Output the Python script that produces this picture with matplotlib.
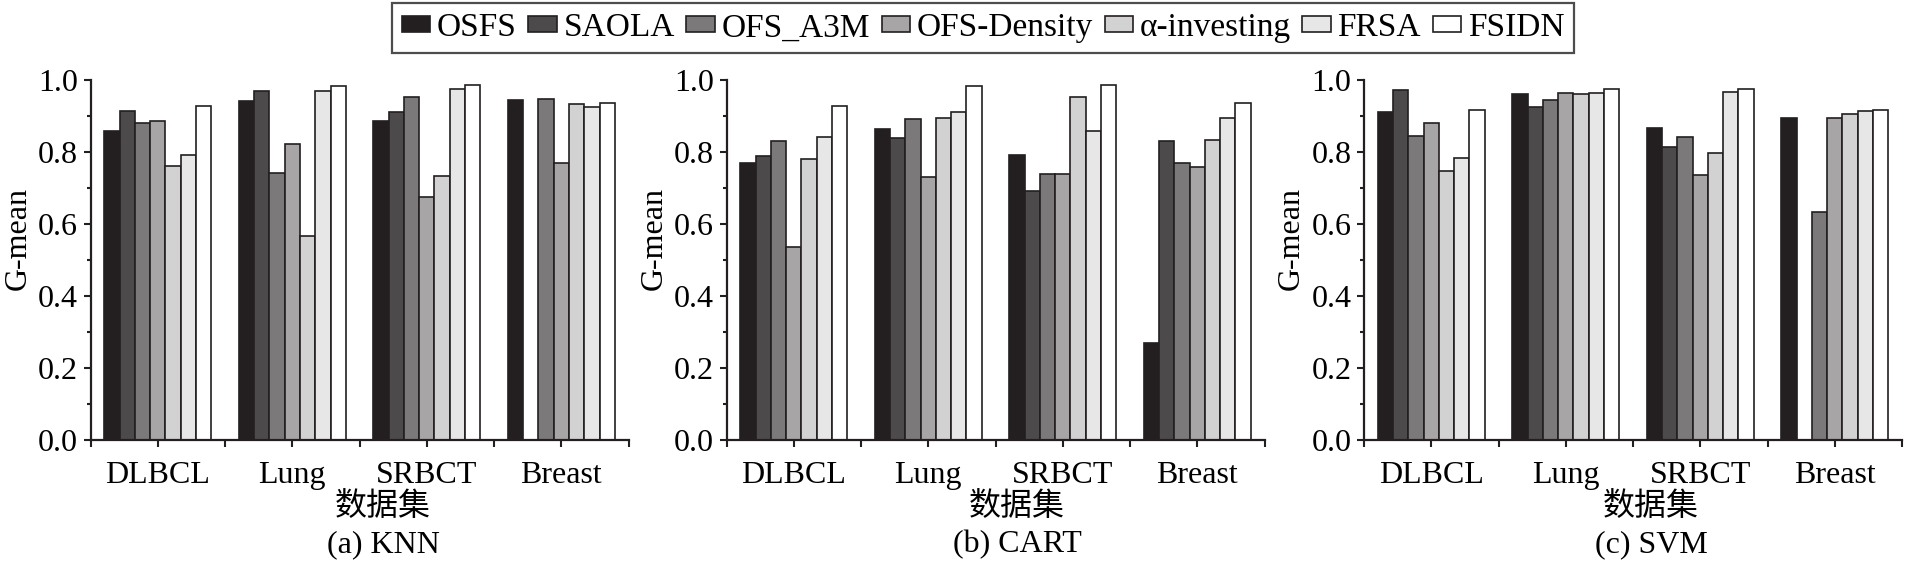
import numpy as np
import matplotlib
matplotlib.use("Agg")
import matplotlib.pyplot as plt
from matplotlib.ticker import MultipleLocator, FixedLocator

plt.rcParams['font.family'] = ['Liberation Serif', 'Noto Sans CJK SC', 'DejaVu Sans']

datasets = ["DLBCL", "Lung", "SRBCT", "Breast"]
methods = ["OSFS", "SAOLA", "OFS_A3M", "OFS-Density", "α-investing", "FRSA", "FSIDN"]
colors = ["#231f20", "#4d4a4b", "#7b797a", "#a7a5a6", "#d3d2d3", "#e7e7e7", "#ffffff"]
nan = np.nan

# G-mean values, rows = methods, columns = datasets
knn = [
    [0.859, 0.943, 0.887, 0.944],   # OSFS
    [0.913, 0.969, 0.910, nan],     # SAOLA
    [0.881, 0.741, 0.954, 0.948],   # OFS_A3M
    [0.886, 0.823, 0.676, 0.769],   # OFS-Density
    [0.761, 0.567, 0.734, 0.934],   # alpha-investing
    [0.791, 0.969, 0.976, 0.924],   # FRSA
    [0.928, 0.984, 0.986, 0.935],   # FSIDN
]
cart = [
    [0.769, 0.864, 0.793, 0.270],
    [0.789, 0.838, 0.691, 0.831],
    [0.830, 0.892, 0.739, 0.770],
    [0.535, 0.731, 0.739, 0.759],
    [0.781, 0.894, 0.953, 0.834],
    [0.841, 0.912, 0.858, 0.894],
    [0.928, 0.984, 0.986, 0.935],
]
svm = [
    [0.911, 0.960, 0.868, 0.895],
    [0.973, 0.926, 0.814, nan],
    [0.844, 0.944, 0.842, 0.633],
    [0.881, 0.965, 0.736, 0.895],
    [0.748, 0.961, 0.798, 0.905],
    [0.784, 0.965, 0.966, 0.914],
    [0.917, 0.975, 0.974, 0.917],
]
panels = [knn, cart, svm]
captions = ["(a) KNN", "(b) CART", "(c) SVM"]
ylabel = "G-mean"
xlabel = "数据集"

W, H = 1905, 563
fig = plt.figure(figsize=(W / 100, H / 100), dpi=100)

ax_left_px = [90.6, 726.5, 1364.0]
ax_w_px = 538.0
ax_bottom_px = 440.0
ax_h_px = 360.0
cap_x_px = [383, 1017, 1651]

bw = 0.1136
x = np.arange(len(datasets))
fs_tick = 23

handles = None
for p, data in enumerate(panels):
    ax = fig.add_axes([ax_left_px[p] / W, (H - ax_bottom_px) / H, ax_w_px / W, ax_h_px / H])
    hs = []
    for i, m in enumerate(methods):
        vals = np.array(data[i], dtype=float)
        offs = (i - 3) * bw
        h = ax.bar(x + offs, vals, width=bw, color=colors[i], edgecolor="#231f20",
                   linewidth=1.2, label=m)
        hs.append(h)
    if handles is None:
        handles = hs
    ax.set_xlim(-0.5, 3.5)
    ax.set_ylim(0, 1.0)
    ax.spines['top'].set_visible(False)
    ax.spines['right'].set_visible(False)
    for s in ['left', 'bottom']:
        ax.spines[s].set_linewidth(1.6)
        ax.spines[s].set_color("#231f20")
    ax.set_xticks(x)
    ax.set_xticklabels(datasets, fontsize=fs_tick)
    ax.xaxis.set_minor_locator(FixedLocator([-0.5, 0.5, 1.5, 2.5, 3.5]))
    ax.yaxis.set_major_locator(MultipleLocator(0.2))
    ax.yaxis.set_minor_locator(MultipleLocator(0.1))
    ax.set_yticks([0.0, 0.2, 0.4, 0.6, 0.8, 1.0])
    ax.set_yticklabels(["0.0", "0.2", "0.4", "0.6", "0.8", "1.0"], fontsize=fs_tick)
    ax.tick_params(axis='both', which='major', direction='out', length=5, width=1.5,
                   color="#231f20", pad=4)
    ax.tick_params(axis='x', which='major', pad=10)
    ax.tick_params(axis='x', which='minor', direction='out', length=5, width=1.5, color="#231f20")
    ax.tick_params(axis='y', which='minor', direction='out', length=3, width=1.5, color="#231f20")
    ax.set_ylabel(ylabel, fontsize=fs_tick)
    ax.yaxis.set_label_coords(-0.108, 0.56)
    fig.text(cap_x_px[p] / W, 1 - 507 / H, xlabel, ha='center', va='center', fontsize=fs_tick)
    fig.text(cap_x_px[p] / W, 1 - 545 / H, captions[p], ha='center', va='center', fontsize=fs_tick)

leg = fig.legend(handles, methods, loc='upper center', bbox_to_anchor=(0.516, 0.995),
                 ncol=7, fontsize=24, frameon=True, fancybox=False, edgecolor="#231f20",
                 handlelength=0.85, handleheight=0.35, handletextpad=0.2,
                 columnspacing=0.35, borderpad=0.3, borderaxespad=0.0)
leg.get_frame().set_linewidth(1.6)

fig.savefig("out.png", dpi=100)
